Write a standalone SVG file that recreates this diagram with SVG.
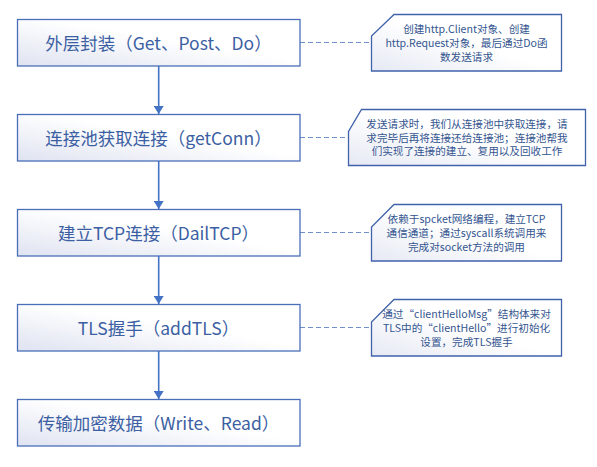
<svg xmlns="http://www.w3.org/2000/svg" width="597" height="467" viewBox="0 0 597 467">
<defs>
<linearGradient id="gb" x1="0" y1="1" x2="1" y2="0">
<stop offset="0" stop-color="#dfe3f1"/>
<stop offset="0.55" stop-color="#ffffff"/>
<stop offset="1" stop-color="#ffffff"/>
</linearGradient>
<linearGradient id="gc" x1="0" y1="1" x2="1" y2="0">
<stop offset="0" stop-color="#e6e9f4"/>
<stop offset="0.5" stop-color="#ffffff"/>
<stop offset="1" stop-color="#ffffff"/>
</linearGradient>
<marker id="ah" viewBox="0 0 8 10" refX="8" refY="5" markerWidth="8" markerHeight="10" markerUnits="userSpaceOnUse" orient="auto">
<path d="M0,0 L8,5 L0,10 Z" fill="#4472c4"/>
</marker>
<style>
.box{fill:url(#gb);stroke:#4a6fb8;stroke-width:1.3}
.call{fill:url(#gc);stroke:#4062aa;stroke-width:1.3}
.t{font-family:"Noto Sans CJK SC","Noto Sans",sans-serif;font-size:17.5px;fill:#3c5fa3;text-anchor:middle;dominant-baseline:central}
.c{font-family:"Noto Sans CJK SC","Noto Sans",sans-serif;font-size:10.6px;fill:#34558f;text-anchor:middle;dominant-baseline:central}
.arr{stroke:#4472c4;stroke-width:1.6;fill:none}
.dash{stroke:#6f8fc8;stroke-width:1.1;stroke-dasharray:5,3;fill:none}
</style>
</defs>
<rect width="597" height="467" fill="#ffffff"/>
<g id="connectors">
<line class="arr" x1="158.7" y1="66" x2="158.7" y2="114" marker-end="url(#ah)"/>
<line class="arr" x1="158.7" y1="161" x2="158.7" y2="209" marker-end="url(#ah)"/>
<line class="arr" x1="158.7" y1="256" x2="158.7" y2="304" marker-end="url(#ah)"/>
<line class="arr" x1="158.7" y1="351" x2="158.7" y2="399" marker-end="url(#ah)"/>
<line class="dash" x1="300" y1="42.5" x2="371" y2="42.5"/>
<line class="dash" x1="300" y1="137.5" x2="348" y2="137.5"/>
<line class="dash" x1="300" y1="232.5" x2="371" y2="232.5"/>
<line class="dash" x1="300" y1="327.5" x2="371" y2="327.5"/>
</g>
<g id="node1">
<rect class="box" x="17.5" y="19.5" width="282.5" height="46.5"/>
<text class="t" x="158.5" y="42.5">外层封装（Get、Post、Do）</text>
</g>
<g id="node2">
<rect class="box" x="17.5" y="114.5" width="282.5" height="46.5"/>
<text class="t" x="158.5" y="137.5">连接池获取连接（getConn）</text>
</g>
<g id="node3">
<rect class="box" x="17.5" y="209.5" width="282.5" height="46.5"/>
<text class="t" x="158.5" y="232.5">建立TCP连接（DailTCP）</text>
</g>
<g id="node4">
<rect class="box" x="17.5" y="304.5" width="282.5" height="46.5"/>
<text class="t" x="158.5" y="327.5">TLS握手（addTLS）</text>
</g>
<g id="node5">
<rect class="box" x="17.5" y="399.5" width="282.5" height="46.5"/>
<text class="t" x="158.5" y="422.5">传输加密数据（Write、Read）</text>
</g>
<g id="note1">
<path class="call" d="M394,14.5 L561.5,14.5 L561.5,71 L371.5,71 L371.5,36 Z"/>
<text class="c" x="466.5" y="28.5">创建http.Client对象、创建</text>
<text class="c" x="466.5" y="42.5">http.Request对象，最后通过Do函</text>
<text class="c" x="466.5" y="56">数发送请求</text>
</g>
<g id="note2">
<path class="call" d="M361.5,109.5 L585.5,109.5 L585.5,165.5 L348.5,165.5 L348.5,131.5 Z"/>
<text class="c" x="467" y="123.5">发送请求时，我们从连接池中获取连接，请</text>
<text class="c" x="467" y="137">求完毕后再将连接还给连接池；连接池帮我</text>
<text class="c" x="467" y="150.5">们实现了连接的建立、复用以及回收工作</text>
</g>
<g id="note3">
<path class="call" d="M394,204.5 L561.5,204.5 L561.5,261 L371.5,261 L371.5,227 Z"/>
<text class="c" x="466.5" y="218.5">依赖于spcket网络编程，建立TCP</text>
<text class="c" x="466.5" y="232.5">通信通道；通过syscall系统调用来</text>
<text class="c" x="466.5" y="246">完成对socket方法的调用</text>
</g>
<g id="note4">
<path class="call" d="M394,299.5 L561.5,299.5 L561.5,356 L371.5,356 L371.5,322 Z"/>
<text class="c" x="466.5" y="313.5">通过“clientHelloMsg”结构体来对</text>
<text class="c" x="466.5" y="327.5">TLS中的“clientHello”进行初始化</text>
<text class="c" x="466.5" y="341">设置，完成TLS握手</text>
</g>
</svg>
